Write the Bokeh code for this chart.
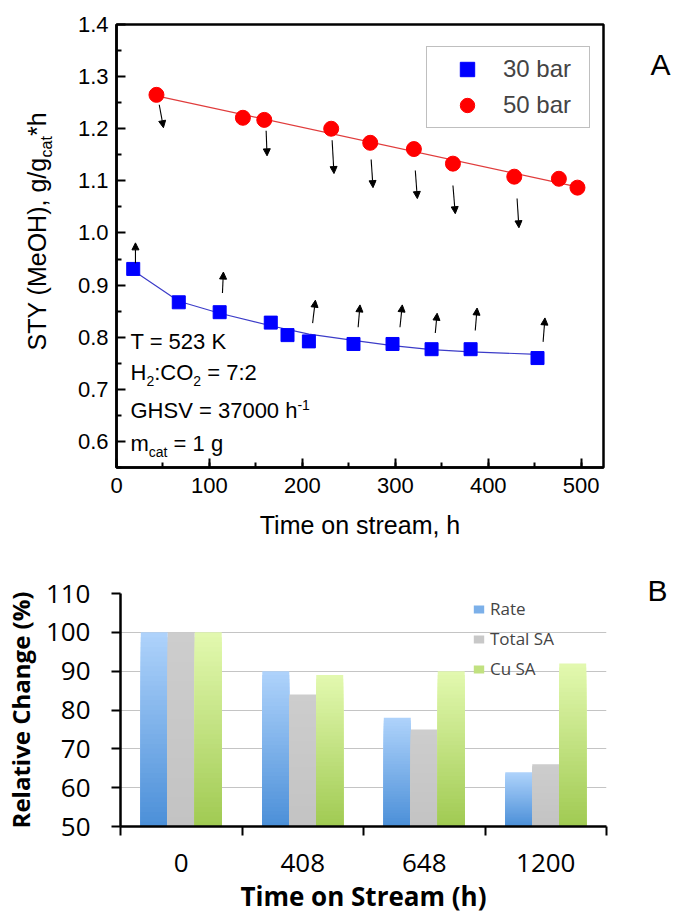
import numpy as np
from bokeh.plotting import figure
from bokeh.models import (Range1d, SingleIntervalTicker, FixedTicker, NumeralTickFormatter,
                          Label, Legend, LegendItem, Arrow, NormalHead, ColumnDataSource)
from bokeh.layouts import column, row
from bokeh.embed import file_html
from bokeh.resources import INLINE

# ---------------- Panel A data ----------------
t_30bar = [18, 67, 111, 166, 184, 207, 255, 297, 339, 381, 453]
sty_30bar = [0.931, 0.867, 0.848, 0.828, 0.804, 0.792, 0.787, 0.787, 0.777, 0.777, 0.760]
t_50bar = [43, 136, 159, 231, 273, 320, 362, 428, 476, 496]
sty_50bar = [1.265, 1.221, 1.217, 1.200, 1.173, 1.161, 1.133, 1.108, 1.104, 1.087]

fit30_t = [18, 67, 111, 166, 207, 255, 297, 339, 381, 453]
fit30_sty = [0.928, 0.869, 0.846, 0.822, 0.806, 0.794, 0.784, 0.776, 0.772, 0.767]
fit50_t = [43, 497]
fit50_sty = [1.263, 1.088]

y_ticks_a = [0.6, 0.7, 0.8, 0.9, 1.0, 1.1, 1.2, 1.3, 1.4]
y_minor_a = [0.55, 0.65, 0.75, 0.85, 0.95, 1.05, 1.15, 1.25, 1.35]

# arrows (start -> end)
up_t0 = [20.4, 114, 211, 260, 305, 343, 386, 459]
up_y0 = [0.942, 0.885, 0.827, 0.819, 0.819, 0.808, 0.813, 0.791]
up_t1 = [20.4, 115, 214, 262, 307.5, 345, 388, 461]
up_y1 = [0.981, 0.925, 0.871, 0.862, 0.862, 0.846, 0.856, 0.837]
dn_t0 = [46, 161, 232, 274, 321.5, 362, 431]
dn_y0 = [1.246, 1.196, 1.178, 1.141, 1.120, 1.091, 1.066]
dn_t1 = [50.5, 162, 234, 276, 323.7, 364.5, 433]
dn_y1 = [1.202, 1.148, 1.114, 1.087, 1.066, 1.037, 1.010]

# ---------------- Panel B data ----------------
times = ["0", "408", "648", "1200"]
rate = [100, 90, 78, 64]
total_sa = [100, 84, 75, 66]
cu_sa = [100, 89, 90, 92]

# Arial / Liberation Sans advance widths (per 1000 em)
ARIAL = {' ': 278, '(': 333, ')': 333, '*': 389, ',': 278, '-': 333, '.': 278, '/': 278,
         ':': 278, '=': 584, 'A': 667, 'C': 722, 'G': 778, 'H': 722, 'K': 667, 'M': 833,
         'O': 778, 'S': 667, 'T': 611, 'V': 667, 'Y': 667, 'a': 556, 'b': 556, 'c': 500,
         'e': 556, 'g': 556, 'h': 556, 'm': 833, 'r': 333, 't': 278}
FA = "Liberation Sans"
FB = "Open Sans"
MID = 0.347  # em distance from baseline up to the text "middle"


def tw(s, size):
    return sum(ARIAL.get(c, 556) for c in s) * size / 1000.0


def add_rich(p, x, y, pieces, x0_off=0, y0_off=0, rotated=False, font=FA):
    """Place text pieces along a common baseline (x, y); shift>0 raises a piece."""
    adv = 0.0
    for text, size, shift in pieces:
        lead = len(text) - len(text.lstrip(" "))
        adv += tw(" " * lead, size)
        txt = text.strip(" ")
        up = shift + MID * size
        if rotated:
            xo, yo, ang = x0_off - up, y0_off + adv, np.pi / 2
        else:
            xo, yo, ang = x0_off + adv, y0_off + up, 0
        p.add_layout(Label(x=x, y=y, x_offset=xo, y_offset=yo, text=txt, angle=ang,
                           text_font=font, text_font_size=f"{size}px", text_align="left",
                           text_baseline="middle", text_color="black"))
        adv += tw(txt, size)


def text_panel(w, h):
    f = figure(width=w, height=h, x_range=Range1d(0, w), y_range=Range1d(0, h),
               x_axis_type=None, y_axis_type=None, min_border=0, frame_align=False,
               output_backend="svg", toolbar_location=None)
    f.title = None
    f.outline_line_color = None
    f.grid.visible = False
    f.background_fill_color = "white"
    f.border_fill_color = "white"
    return f


# ================= Panel A =================
HA = 553
pa = figure(width=576, height=HA, x_range=Range1d(0, 524), y_range=Range1d(0.55, 1.4),
            output_backend="svg", toolbar_location=None, frame_align=False,
            min_border_left=52, min_border_right=37, min_border_top=24, min_border_bottom=86)
pa.grid.visible = False
pa.outline_line_color = "black"
pa.outline_line_width = 2.5
pa.outline_line_alpha = 1
pa.background_fill_color = "white"
pa.border_fill_color = "white"
for ax in (pa.xaxis[0], pa.yaxis[0]):
    ax.axis_line_width = 2.5
    ax.major_tick_in = 9
    ax.major_tick_out = 0
    ax.minor_tick_in = 5
    ax.minor_tick_out = 0
    ax.major_tick_line_width = 2
    ax.minor_tick_line_width = 2
    ax.major_label_text_font = FA
    ax.major_label_text_font_size = "22px"
    ax.major_label_text_color = "black"
pa.xaxis.ticker = SingleIntervalTicker(interval=100, num_minor_ticks=2)
pa.yaxis.ticker = FixedTicker(ticks=y_ticks_a, minor_ticks=y_minor_a)
pa.yaxis.formatter = NumeralTickFormatter(format="0.0")
pa.xaxis.major_label_standoff = 10
pa.yaxis.major_label_standoff = 8
pa.xaxis.axis_label = "Time on stream, h"
pa.xaxis.axis_label_text_font = FA
pa.xaxis.axis_label_text_font_size = "25px"
pa.xaxis.axis_label_text_font_style = "normal"
pa.xaxis.axis_label_text_color = "black"
pa.xaxis.axis_label_standoff = 15

pa.line(fit30_t, fit30_sty, line_color="#3c3cc8", line_width=1.2)
pa.line(fit50_t, fit50_sty, line_color="#e03c3c", line_width=1.2)
r_sq = pa.scatter(t_30bar, sty_30bar, marker="square", size=13,
                  fill_color="#0000ff", line_color="#0000ff")
r_ci = pa.scatter(t_50bar, sty_50bar, marker="circle", size=15,
                  fill_color="#ff0000", line_color="#ff0000")

for t0, y0, t1, y1 in ((up_t0, up_y0, up_t1, up_y1), (dn_t0, dn_y0, dn_t1, dn_y1)):
    src = ColumnDataSource(dict(x0=t0, y0=y0, x1=t1, y1=y1))
    pa.add_layout(Arrow(end=NormalHead(size=7, fill_color="black", line_color="black", line_width=1),
                        x_start="x0", y_start="y0", x_end="x1", y_end="y1", source=src,
                        line_color="black", line_width=1.1))

leg_a = Legend(items=[LegendItem(label="30 bar", renderers=[r_sq]),
                      LegendItem(label="50 bar", renderers=[r_ci])],
               location=(310, 339), padding=4, spacing=0, margin=0,
               glyph_width=72, glyph_height=36, label_height=36, label_width=82,
               label_standoff=0, label_text_font=FA, label_text_font_size="24px",
               border_line_color="#808080", border_line_width=1, background_fill_color="white")
pa.add_layout(leg_a)

# condition annotations (baselines in data units)
add_rich(pa, 0, 0.778, [("T = 523 K", 22, 0)], x0_off=14)
add_rich(pa, 0, 0.717, [("H", 22, 0), ("2", 14, -5), (":CO", 22, 0), ("2", 14, -5), (" = 7:2", 22, 0)], x0_off=14)
add_rich(pa, 0, 0.644, [("GHSV = 37000 h", 22, 0), ("-1", 14, 9)], x0_off=14)
add_rich(pa, 0, 0.582, [("m", 22, 0), ("cat", 14, -6), (" = 1 g", 22, 0)], x0_off=14)

# y-axis title panel (rotated, with subscript)
ya = text_panel(64, HA)
add_rich(ya, 45, HA - 350, [("STY (MeOH), g/g", 25, 0), ("cat", 16, -7), ("*h", 25, 0)],
         rotated=True)

# panel letter A
ra = text_panel(35, HA)
ra.add_layout(Label(x=20, y=HA - 64, text="A", text_font=FA, text_font_size="30px",
                    text_align="center", text_baseline="middle", text_color="black"))

# ================= Panel B =================
HB = 363
pb = figure(width=640, height=HB, x_range=Range1d(0, 4), y_range=Range1d(50, 110),
            output_backend="svg", toolbar_location=None, frame_align=False,
            min_border_left=117, min_border_right=34, min_border_top=40, min_border_bottom=88)
pb.outline_line_color = None
pb.background_fill_color = "white"
pb.border_fill_color = "white"
pb.xgrid.visible = False
pb.ygrid.grid_line_color = "#c4c4c4"
pb.ygrid.grid_line_width = 1
pb.yaxis.ticker = SingleIntervalTicker(interval=10, num_minor_ticks=0)
pb.xaxis.ticker = FixedTicker(ticks=[i + 0.5 for i in range(len(times))],
                              minor_ticks=list(range(len(times) + 1)))
pb.xaxis.major_label_overrides = {i + 0.5: lab for i, lab in enumerate(times)}
for ax in (pb.xaxis[0], pb.yaxis[0]):
    ax.axis_line_width = 2.5
    ax.axis_line_color = "black"
    ax.major_label_text_font = FB
    ax.major_label_text_font_size = "26px"
    ax.major_label_text_color = "black"
    ax.axis_label_text_font = FB
    ax.axis_label_text_font_style = "bold"
    ax.axis_label_text_color = "black"
pb.yaxis.major_tick_out = 9
pb.yaxis.major_tick_in = 0
pb.yaxis.major_tick_line_width = 2
pb.yaxis.minor_tick_line_color = None
pb.yaxis.major_label_standoff = 21
pb.yaxis.axis_label = "Relative Change (%)"
pb.yaxis.axis_label_text_font_size = "24px"
pb.yaxis.axis_label_standoff = 6
pb.xaxis.major_tick_out = 9
pb.xaxis.major_tick_in = 0
pb.xaxis.major_tick_line_alpha = 0
pb.xaxis.minor_tick_out = 9
pb.xaxis.minor_tick_in = 0
pb.xaxis.minor_tick_line_width = 2
pb.xaxis.major_label_standoff = 18
pb.xaxis.axis_label = "Time on Stream (h)"
pb.xaxis.axis_label_text_font_size = "26px"
pb.xaxis.axis_label_standoff = 3


def hex2rgb(h):
    h = h.lstrip("#")
    return [int(h[i:i + 2], 16) for i in (0, 2, 4)]


def mix(c0, c1, f):
    a, b = hex2rgb(c0), hex2rgb(c1)
    return "#%02x%02x%02x" % tuple(int(round(a[i] + (b[i] - a[i]) * f)) for i in range(3))


series = [("Rate", rate, "#4b8fd8", "#afd3fb", -1),
          ("Total SA", total_sa, "#c3c3c3", "#cdcdcd", 0),
          ("Cu SA", cu_sa, "#a0ca52", "#e3f9b0", 1)]
N = 40
bw = 0.222
legend_items = []
for name, vals, c_bot, c_top, k_off in series:
    L, R, B, T, C = [], [], [], [], []
    for i, v in enumerate(vals):
        cx = i + 0.5 + k_off * bw
        for k in range(N - 1, -1, -1):
            L.append(cx - bw / 2)
            R.append(cx + bw / 2)
            B.append(50)
            T.append(50 + (v - 50) * (k + 1) / N)
            C.append(mix(c_bot, c_top, (k + 0.5) / N))
    r = pb.quad(left=L, right=R, bottom=B, top=T, fill_color=C, line_color=None)
    legend_items.append(LegendItem(label=name, renderers=[r], index=N // 2))

leg_b = Legend(items=legend_items, location=(352, 146), padding=0, spacing=7, margin=0,
               glyph_width=13, glyph_height=10, label_height=23, label_standoff=5,
               label_text_font=FB, label_text_font_size="17px",
               border_line_color=None, background_fill_alpha=0)
pb.add_layout(leg_b)

rb = text_panel(35, HB)
rb.add_layout(Label(x=17, y=HB - 37, text="B", text_font=FA, text_font_size="30px",
                    text_align="center", text_baseline="middle", text_color="black"))

layout = column(row(ya, pa, ra, spacing=0), row(pb, rb, spacing=0), spacing=0)
open("out.html", "w").write(file_html(layout, INLINE))
